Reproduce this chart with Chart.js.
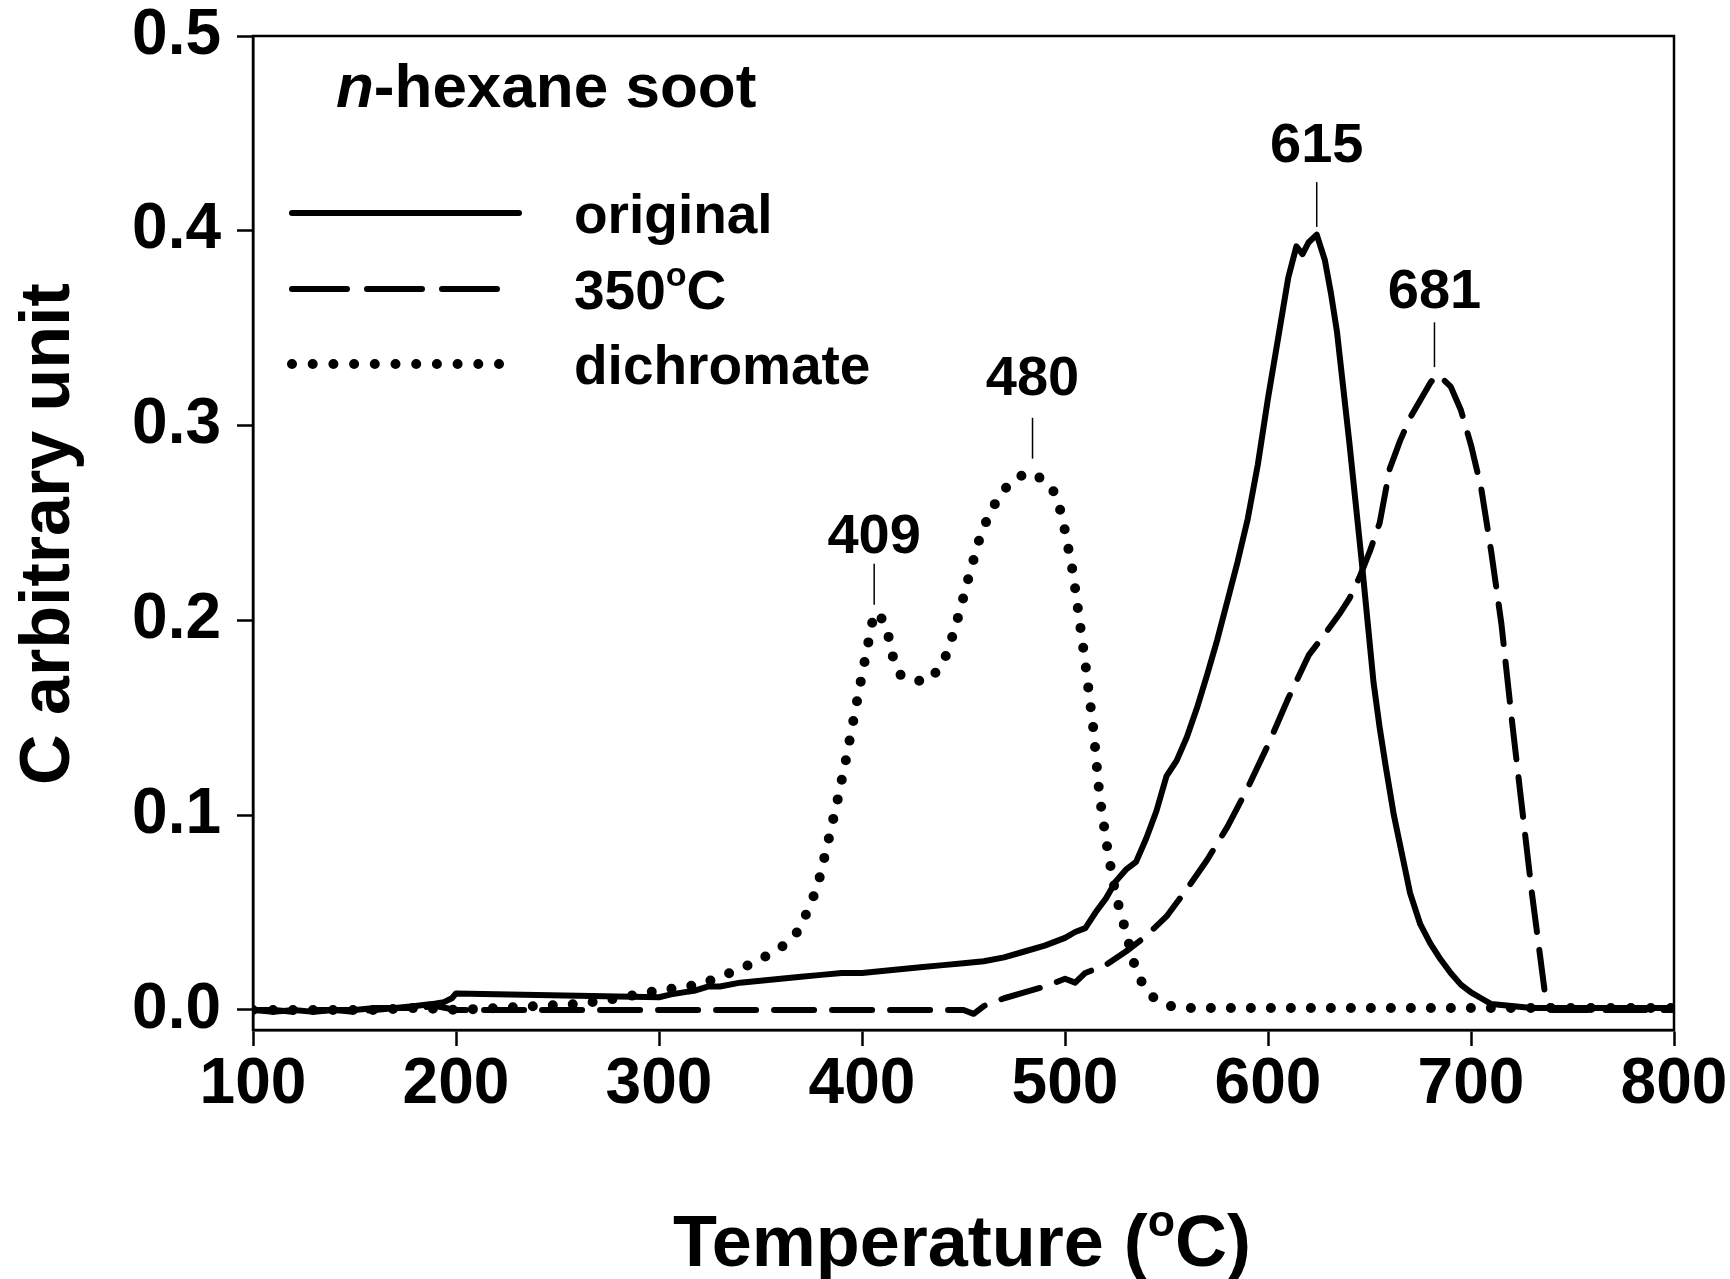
<!DOCTYPE html>
<html>
<head>
<meta charset="utf-8">
<title>n-hexane soot</title>
<script src="https://cdn.jsdelivr.net/npm/chart.js@4.4.0/dist/chart.umd.min.js"></script>
<style>
  body { margin: 0; background: #fff; }
  #chart { display: block; }
</style>
</head>
<body>
<canvas id="chart" width="1730" height="1279"></canvas>
<script>
// values
const originalTemp = [100,110,120,130,140,150,160,170,180,188,194,198,200,300,306,312,318,324,330,340,350,360,370,380,390,400,410,420,430,440,450,460,470,480,490,500,505,510,515,520,525,530,535,540,545,550,555,560,565,570,575,580,585,590,595,600,605,610,614,617,620,624,628,631,634,637,640,643,646,649,652,655,658,662,666,670,675,680,685,690,695,700,705,710,720,730,740,760,780,800];
const originalSignal = [0,-0.001,0,-0.001,0,0,0.001,0.001,0.002,0.003,0.004,0.006,0.0085,0.0065,0.008,0.009,0.010,0.012,0.012,0.014,0.015,0.016,0.017,0.018,0.019,0.019,0.020,0.021,0.022,0.023,0.024,0.025,0.027,0.030,0.033,0.037,0.040,0.042,0.050,0.057,0.066,0.072,0.076,0.088,0.102,0.120,0.128,0.140,0.155,0.172,0.190,0.210,0.230,0.252,0.280,0.314,0.345,0.376,0.392,0.388,0.394,0.398,0.385,0.368,0.348,0.320,0.292,0.262,0.232,0.200,0.168,0.145,0.125,0.100,0.080,0.060,0.044,0.034,0.026,0.019,0.013,0.009,0.006,0.003,0.002,0.001,0.001,0.001,0.001,0.001];

const heat350Temp = [100,110,120,130,140,150,160,170,180,190,200,250,300,350,400,450,455,460,470,480,490,500,505,510,515,520,530,540,550,560,570,580,590,600,610,620,628,635,640,645,650,655,660,665,670,675,680,683,686,690,695,700,705,710,715,720,725,730,734,737,740,760,780,800];
const heat350Signal = [0,0,-0.001,0,0,-0.001,0,0.001,0.001,0.002,0,0,0,0,0,0,-0.002,0.002,0.006,0.009,0.012,0.016,0.014,0.019,0.021,0.023,0.030,0.038,0.048,0.062,0.077,0.094,0.114,0.136,0.160,0.182,0.193,0.203,0.211,0.222,0.235,0.250,0.278,0.292,0.304,0.313,0.322,0.326,0.324,0.320,0.308,0.290,0.268,0.235,0.198,0.150,0.105,0.060,0.028,0.004,0,0,0,0];

const dichromateTemp = [100,120,140,160,180,200,220,240,260,280,300,320,340,350,360,367,372,378,383,388,392,396,400,403,406,409,412,415,419,425,433,440,444,448,453,459,467,474,482,490,496,500,504,507,510,514,517,521,525,530,535,540,545,552,560,600,650,700,750,800];
const dichromateSignal = [0,0,0,0,0.001,0,0.001,0.002,0.003,0.006,0.010,0.013,0.021,0.026,0.032,0.038,0.048,0.063,0.085,0.108,0.128,0.150,0.172,0.188,0.204,0.202,0.197,0.182,0.172,0.169,0.169,0.178,0.190,0.204,0.224,0.246,0.263,0.272,0.276,0.272,0.264,0.246,0.224,0.201,0.178,0.144,0.110,0.082,0.059,0.040,0.020,0.010,0.005,0.002,0.001,0.001,0.001,0.001,0.001,0.001];

const xTicks = [100,200,300,400,500,600,700,800];
const yTicks = [0,0.1,0.2,0.3,0.4,0.5];

// peak marks: label, temperature, leader from / to, label baseline (data units)
const peakLabels = ['409','480','615','681'];
const peakTemps = [406,484,624,682];
const peakLeaderFrom = [0.208,0.283,0.402,0.330];
const peakLeaderTo = [0.229,0.304,0.425,0.353];
const peakLabelAt = [0.2345,0.3155,0.4355,0.3605];

const FONT = '"Liberation Sans", Arial, Helvetica, sans-serif';

function toPoints(xs, ys) {
    return xs.map((x, i) => ({ x: x, y: ys[i] }));
}

// draw a run of text pieces, some italic or superscript
function drawRich(ctx, parts, x, y, size, align) {
    const fontOf = p => {
        const s = p.sup ? size * 0.62 : size;
        return (p.italic ? 'italic ' : '') + 'bold ' + s + 'px ' + FONT;
    };
    const widths = parts.map(p => { ctx.font = fontOf(p); return ctx.measureText(p.t).width; });
    const total = widths.reduce((a, b) => a + b, 0);
    let cx = align === 'center' ? x - total / 2 : (align === 'right' ? x - total : x);
    ctx.textAlign = 'left';
    ctx.textBaseline = 'alphabetic';
    parts.forEach((p, i) => {
        ctx.font = fontOf(p);
        ctx.fillText(p.t, cx, p.sup ? y - size * 0.42 : y);
        cx += widths[i];
    });
}

const figurePlugin = {
    id: 'figureText',
    afterDraw(chart) {
        const { ctx, chartArea: a, scales: { x, y } } = chart;
        ctx.save();
        ctx.fillStyle = '#000';
        ctx.strokeStyle = '#000';

        // box round the plot
        ctx.lineWidth = 2.5;
        ctx.strokeRect(a.left, a.top, a.right - a.left, a.bottom - a.top);

        // tick labels
        ctx.font = 'bold 64px ' + FONT;
        ctx.textAlign = 'right';
        ctx.textBaseline = 'middle';
        yTicks.forEach(v => ctx.fillText(v.toFixed(1), a.left - 32, y.getPixelForValue(v)));
        ctx.textAlign = 'center';
        xTicks.forEach(v => ctx.fillText(String(v), x.getPixelForValue(v), a.bottom + 55));

        // axis titles
        drawRich(ctx, [{ t: 'Temperature (' }, { t: 'o', sup: true }, { t: 'C)' }], 962, 1266, 72, 'center');
        ctx.save();
        ctx.translate(69, 534);
        ctx.rotate(-Math.PI / 2);
        drawRich(ctx, [{ t: 'C arbitrary unit' }], 0, 0, 70, 'center');
        ctx.restore();

        // sample name
        drawRich(ctx, [{ t: 'n', italic: true }, { t: '-hexane soot' }], 336, 107, 62, 'left');

        // legend
        const rows = [
            { parts: [{ t: 'original' }], dash: [], width: 6, end: 519 },
            { parts: [{ t: '350' }, { t: 'o', sup: true }, { t: 'C' }], dash: [55, 20], width: 6, end: 497 },
            { parts: [{ t: 'dichromate' }], dash: [0, 20.7], width: 10, end: 519 }
        ];
        const rowY = [213, 289, 364];
        rows.forEach((r, i) => {
            ctx.beginPath();
            ctx.setLineDash(r.dash);
            ctx.lineCap = 'round';
            ctx.lineWidth = r.width;
            ctx.moveTo(292, rowY[i]);
            ctx.lineTo(r.end, rowY[i]);
            ctx.stroke();
            drawRich(ctx, r.parts, 574, rowY[i] + 20, 55, 'left');
        });
        ctx.setLineDash([]);

        // peak markers
        ctx.lineWidth = 1.5;
        ctx.lineCap = 'butt';
        peakLabels.forEach((lab, i) => {
            const px = x.getPixelForValue(peakTemps[i]);
            ctx.beginPath();
            ctx.moveTo(px, y.getPixelForValue(peakLeaderFrom[i]));
            ctx.lineTo(px, y.getPixelForValue(peakLeaderTo[i]));
            ctx.stroke();
            drawRich(ctx, [{ t: lab }], px, y.getPixelForValue(peakLabelAt[i]), 56, 'center');
        });
        ctx.restore();
    }
};

new Chart(document.getElementById('chart').getContext('2d'), {
    type: 'line',
    data: {
        datasets: [
            {
                label: 'original',
                data: toPoints(originalTemp, originalSignal),
                borderColor: '#000',
                borderWidth: 6,
                borderJoinStyle: 'round',
                borderCapStyle: 'round'
            },
            {
                label: '350°C',
                data: toPoints(heat350Temp, heat350Signal),
                borderColor: '#000',
                borderWidth: 6,
                borderDash: [40, 18],
                borderJoinStyle: 'round',
                borderCapStyle: 'round'
            },
            {
                label: 'dichromate',
                data: toPoints(dichromateTemp, dichromateSignal),
                borderColor: '#000',
                borderWidth: 10,
                borderDash: [0, 20],
                borderCapStyle: 'round'
            }
        ]
    },
    options: {
        responsive: false,
        animation: false,
        events: [],
        elements: { point: { radius: 0 }, line: { tension: 0, fill: false } },
        layout: { padding: { left: 0, top: 36, right: 56, bottom: 0 } },
        plugins: { legend: { display: false }, tooltip: { enabled: false } },
        scales: {
            x: {
                type: 'linear',
                min: 100,
                max: 800,
                afterBuildTicks: s => { s.ticks = xTicks.map(v => ({ value: v })); },
                afterFit: s => { s.height = 249; },
                ticks: { display: false },
                grid: { drawOnChartArea: false, tickLength: 16, tickWidth: 2.5, tickColor: '#000' },
                border: { color: '#000', width: 2.5 }
            },
            y: {
                type: 'linear',
                min: -0.0103,
                max: 0.5,
                afterBuildTicks: s => { s.ticks = yTicks.map(v => ({ value: v })); },
                afterFit: s => { s.width = 253; },
                ticks: { display: false },
                grid: { drawOnChartArea: false, tickLength: 16, tickWidth: 2.5, tickColor: '#000' },
                border: { color: '#000', width: 2.5 }
            }
        }
    },
    plugins: [figurePlugin]
});
</script>
</body>
</html>
